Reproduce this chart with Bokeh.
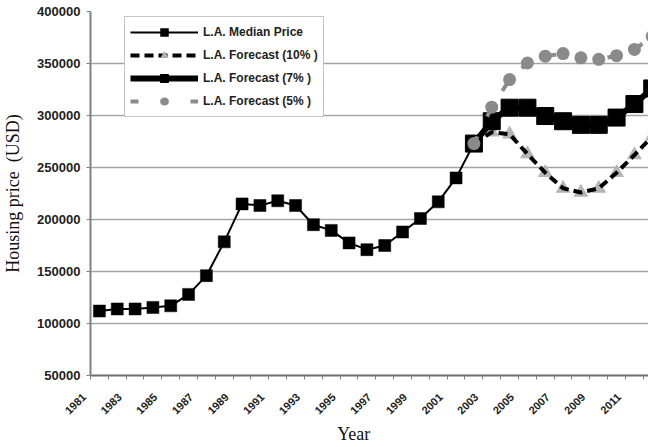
import math
from bokeh.plotting import figure
from bokeh.models import (FixedTicker, Legend, LegendItem, NumeralTickFormatter,
                          ColumnDataSource)
from bokeh.embed import file_html
from bokeh.resources import INLINE

# ---- data ----
years_hist = list(range(1981, 2003))
median_price = [112000, 114000, 114000, 115500, 117000, 128000, 146000, 178500,
                215000, 213500, 218000, 213500, 195000, 189500, 177500, 171000,
                175000, 188000, 201000, 217000, 240000, 273000]

years_fc = list(range(2002, 2013))
forecast_10 = [273000, 284000, 282000, 263000, 245000, 230000, 226000, 230000,
               245000, 262000, 280000]
forecast_7 = [273000, 294500, 307500, 307500, 299500, 294500, 291000, 291000,
              298000, 311000, 326000]
forecast_5 = [273000, 308000, 334500, 350500, 357000, 359500, 355500, 354000,
              357500, 363500, 376000]

y_ticks = [50000, 100000, 150000, 200000, 250000, 300000, 350000, 400000]
x_tick_labels = ["1981", "1983", "1985", "1987", "1989", "1991", "1993", "1995",
                 "1997", "1999", "2001", "2003", "2005", "2007", "2009", "2011"]

series_names = ["L.A. Median Price", "L.A. Forecast (10% )",
                "L.A. Forecast (7% )", "L.A. Forecast (5% )"]

NBSP = "\u00a0"

# ---- figure ----
p = figure(width=648, height=446, output_backend="svg", toolbar_location=None,
           x_range=(1980.5, 2011.79), y_range=(50000, 400000),
           min_border_left=85, min_border_right=0, min_border_top=11,
           min_border_bottom=40, background_fill_color="white",
           border_fill_color="white")
p.outline_line_color = None

# grid
p.xgrid.grid_line_color = None
p.ygrid.ticker = FixedTicker(ticks=y_ticks)
p.ygrid.grid_line_color = "#a6a6a6"
p.ygrid.grid_line_width = 1.5

# y axis
yax = p.yaxis[0]
yax.ticker = FixedTicker(ticks=y_ticks)
yax.formatter = NumeralTickFormatter(format="0")
yax.major_label_text_font = "Liberation Sans"
yax.major_label_text_font_style = "bold"
yax.major_label_text_font_size = "13px"
yax.major_label_text_color = "#222222"
yax.major_tick_out = 4
yax.major_tick_in = 0
yax.minor_tick_line_color = None
yax.major_tick_line_color = "#808080"
yax.axis_line_color = "#808080"
yax.axis_line_width = 2
yax.major_label_standoff = 6
yax.axis_label = "Housing price" + NBSP + " (USD)"
yax.axis_label_text_font = "Liberation Serif"
yax.axis_label_text_font_style = "normal"
yax.axis_label_text_font_size = "18px"
yax.axis_label_text_color = "#111111"
yax.axis_label_standoff = 11

# x axis: tick marks at every year boundary; label of each odd year sits
# at the boundary on its left (padded so the rotated text ends near the tick)
xax = p.xaxis[0]
boundaries = [y - 0.5 for y in range(1981, 2013)]
xax.ticker = FixedTicker(ticks=boundaries)
label_map = {b: "" for b in boundaries}
for s in x_tick_labels:
    label_map[int(s) - 0.5] = s + NBSP * 3
xax.major_label_overrides = label_map
xax.major_label_orientation = math.pi / 4
xax.major_label_standoff = 9
xax.major_label_text_font = "Liberation Sans"
xax.major_label_text_font_style = "bold"
xax.major_label_text_font_size = "11px"
xax.major_label_text_color = "#222222"
xax.major_tick_out = 4
xax.major_tick_in = 0
xax.minor_tick_line_color = None
xax.major_tick_line_color = "#808080"
xax.axis_line_color = "#6e6e6e"
xax.axis_line_width = 2
xax.axis_label = "Year" + NBSP * 7
xax.axis_label_standoff = 0
xax.axis_label_text_font = "Liberation Serif"
xax.axis_label_text_font_style = "normal"
xax.axis_label_text_font_size = "18px"
xax.axis_label_text_color = "#111111"

# ---- series ----
src_h = ColumnDataSource(dict(x=years_hist, y=median_price))
src_10 = ColumnDataSource(dict(x=years_fc, y=forecast_10))
src_7 = ColumnDataSource(dict(x=years_fc, y=forecast_7))
src_5 = ColumnDataSource(dict(x=years_fc, y=forecast_5))

r_med_l = p.line("x", "y", source=src_h, line_color="black", line_width=2)
r_med_m = p.scatter("x", "y", source=src_h, marker="square", size=12,
                    fill_color="black", line_color="black", line_width=0.5)

r_10_m = p.scatter("x", "y", source=src_10, marker="triangle", size=15,
                   fill_color="#b5b5b5", line_color=None)
r_10_l = p.line("x", "y", source=src_10, line_color="black", line_width=4,
                line_dash="9 5")

r_7_l = p.line("x", "y", source=src_7, line_color="black", line_width=6)
r_7_m = p.scatter("x", "y", source=src_7, marker="square", size=17,
                  fill_color="black", line_color="black")

r_5_l = p.line("x", "y", source=src_5, line_color="#8c8c8c", line_width=4,
               line_dash="8 22")
r_5_m = p.scatter("x", "y", source=src_5, marker="circle", size=13,
                  fill_color="#8a8a8a", line_color=None)

legend = Legend(items=[
    LegendItem(label=series_names[0], renderers=[r_med_l, r_med_m]),
    LegendItem(label=series_names[1], renderers=[r_10_l, r_10_m]),
    LegendItem(label=series_names[2], renderers=[r_7_l, r_7_m]),
    LegendItem(label=series_names[3], renderers=[r_5_l, r_5_m]),
], location=(34, 258))
legend.glyph_width = 68
legend.glyph_height = 20
legend.label_height = 20
legend.spacing = 3
legend.padding = 5
legend.margin = 0
legend.label_standoff = 5
legend.label_text_font = "Liberation Sans"
legend.label_text_font_style = "bold"
legend.label_text_font_size = "12px"
legend.label_text_color = "#222222"
legend.border_line_color = "#8c8c8c"
legend.border_line_width = 1.5
legend.background_fill_color = "white"
legend.background_fill_alpha = 1.0
p.add_layout(legend, "center")

open("out.html", "w").write(file_html(p, INLINE))
